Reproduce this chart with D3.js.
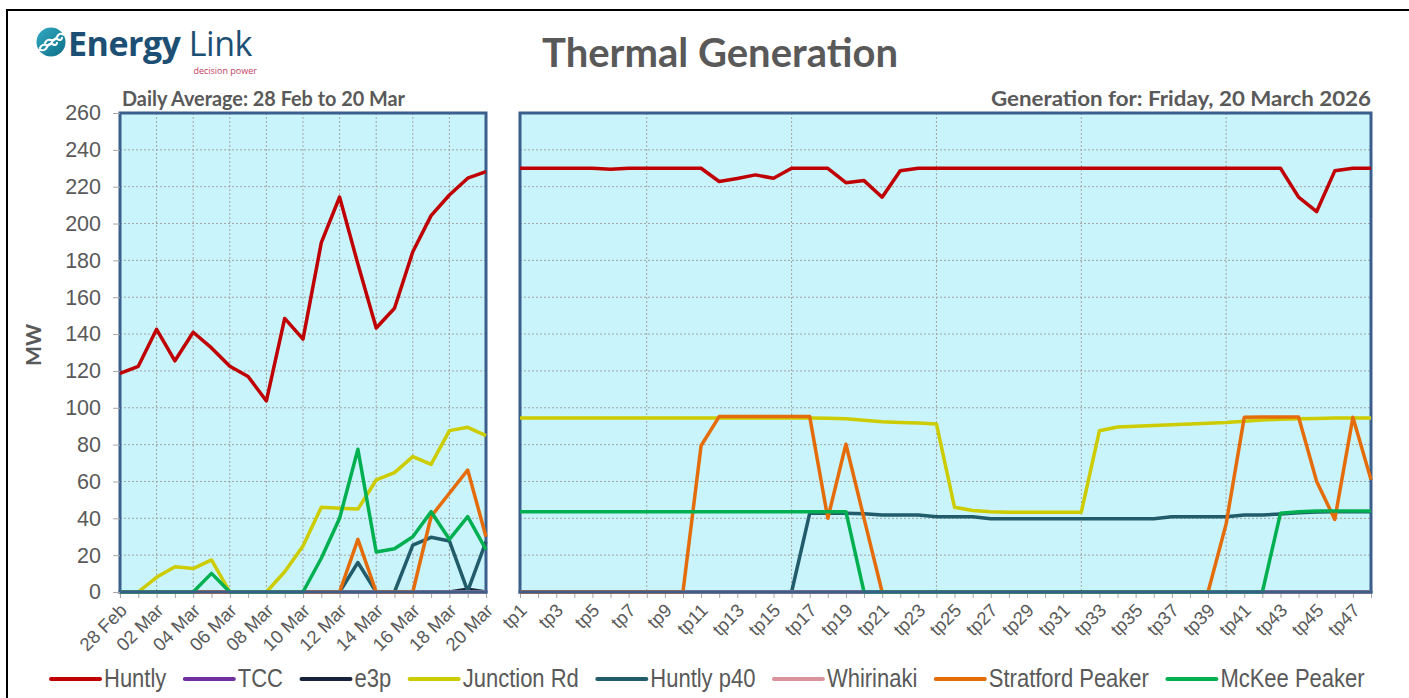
<!DOCTYPE html>
<html lang="en">
<head>
<meta charset="utf-8">
<title>Thermal Generation</title>
<style>
  body { margin: 0; background: #fff; }
  svg { display: block; }
</style>
</head>
<body>
<svg width="1409" height="698"></svg>
<script src="https://d3js.org/d3.v7.min.js"></script>
<script>
// categories and ticks
var days = ["28 Feb", "01 Mar", "02 Mar", "03 Mar", "04 Mar", "05 Mar", "06 Mar", "07 Mar", "08 Mar", "09 Mar", "10 Mar",
            "11 Mar", "12 Mar", "13 Mar", "14 Mar", "15 Mar", "16 Mar", "17 Mar", "18 Mar", "19 Mar", "20 Mar"];
var dayLabels = ["28 Feb", "02 Mar", "04 Mar", "06 Mar", "08 Mar", "10 Mar", "12 Mar", "14 Mar", "16 Mar", "18 Mar", "20 Mar"];
var dayGrid = ["02 Mar", "04 Mar", "06 Mar", "08 Mar", "10 Mar", "12 Mar", "14 Mar", "16 Mar", "18 Mar"];
var periods = d3.range(1, 49).map(function(i) { return "tp" + i; });
var periodLabels = periods.filter(function(d, i) { return i % 2 === 0; });
var periodGrid = ["tp8", "tp16", "tp24", "tp32", "tp40"];
var yTicks = [0, 20, 40, 60, 80, 100, 120, 140, 160, 180, 200, 220, 240, 260];

var seriesNames = ["Huntly", "TCC", "e3p", "Junction Rd", "Huntly p40", "Whirinaki", "Stratford Peaker", "McKee Peaker"];
var seriesColors = ["#c00000", "#7030a0", "#17233d", "#cccc00", "#225b6a", "#d9959b", "#e46c0a", "#00b050"];

// daily average MW, 28 Feb .. 20 Mar
var dayHuntly    = [118.7, 122.5, 142.6, 125.5, 141, 132.5, 122.5, 117, 103.7, 148.5, 137.3, 189.6, 214.4, 178, 143.3, 154, 184.7, 204.3, 215.5, 224.6, 228.2];
var dayTCC       = [0, 0, 0, 0, 0, 0, 0, 0, 0, 0, 0, 0, 0, 0, 0, 0, 0, 0, 0, 0, 0];
var dayE3p       = [0, 0, 0, 0, 0, 0, 0, 0, 0, 0, 0, 0, 0, 0, 0, 0, 0, 0, 0, 1.5, 0];
var dayJunction  = [0, 0, 8, 13.7, 12.7, 17.4, 0, 0, 0, 11, 25, 46, 45.5, 45, 60.8, 64.8, 73.5, 69.3, 87.6, 89.4, 84.9];
var dayHuntlyP40 = [0, 0, 0, 0, 0, 0, 0, 0, 0, 0, 0, 0, 0, 16, 0, 0, 25.5, 29.7, 27.7, 0.5, 27.3];
var dayWhirinaki = [0, 0, 0, 0, 0, 0, 0, 0, 0, 0, 0, 0, 0, 0, 0, 0, 0, 0, 0, 0, 0];
var dayStratford = [0, 0, 0, 0, 0, 0, 0, 0, 0, 0, 0, 0, 0, 28.6, 0, 0, 0, 41, 53.6, 66.2, 30];
var dayMcKee     = [0, 0, 0, 0, 0, 10.1, 0, 0, 0, 0, 0, 18.3, 40, 77.5, 21.7, 23.5, 30, 43.6, 28.6, 40.9, 23];

// trading periods tp1 .. tp48, Friday 20 March 2026
var tpHuntly    = [230, 230, 230, 230, 230, 229.5, 230, 230, 230, 230, 230, 222.8, 224.5, 226.4, 224.6, 230,
                   230, 230, 222.2, 223.3, 214.3, 228.7, 230, 230, 230, 230, 230, 230, 230, 230, 230, 230,
                   230, 230, 230, 230, 230, 230, 230, 230, 230, 230, 230, 214.3, 206.5, 228.6, 230, 230];
var tpTCC       = [0, 0, 0, 0, 0, 0, 0, 0, 0, 0, 0, 0, 0, 0, 0, 0, 0, 0, 0, 0, 0, 0, 0, 0,
                   0, 0, 0, 0, 0, 0, 0, 0, 0, 0, 0, 0, 0, 0, 0, 0, 0, 0, 0, 0, 0, 0, 0, 0];
var tpE3p       = [0, 0, 0, 0, 0, 0, 0, 0, 0, 0, 0, 0, 0, 0, 0, 0, 0, 0, 0, 0, 0, 0, 0, 0,
                   0, 0, 0, 0, 0, 0, 0, 0, 0, 0, 0, 0, 0, 0, 0, 0, 0, 0, 0, 0, 0, 0, 0, 0];
var tpJunction  = [94.5, 94.5, 94.5, 94.5, 94.5, 94.5, 94.5, 94.5, 94.5, 94.5, 94.5, 94.5, 94.5, 94.5, 94.5, 94.5,
                   94.5, 94.3, 94, 93.2, 92.4, 92, 91.7, 91.2, 46, 44.2, 43.6, 43.3, 43.3, 43.3, 43.3, 43.3,
                   87.5, 89.6, 90, 90.4, 90.8, 91.2, 91.6, 92, 92.7, 93.3, 93.8, 94, 94.2, 94.4, 94.5, 94.5];
var tpHuntlyP40 = [0, 0, 0, 0, 0, 0, 0, 0, 0, 0, 0, 0, 0, 0, 0, 0,
                   42.7, 42.7, 42.7, 42.5, 41.8, 41.8, 41.8, 40.9, 40.9, 40.9, 39.8, 39.8, 39.8, 39.8, 39.8, 39.8,
                   39.8, 39.8, 39.8, 39.8, 40.9, 40.9, 40.9, 40.9, 41.8, 41.8, 42.3, 43, 43.4, 43.6, 43.6, 43.6];
var tpWhirinaki = [0, 0, 0, 0, 0, 0, 0, 0, 0, 0, 0, 0, 0, 0, 0, 0, 0, 0, 0, 0, 0, 0, 0, 0,
                   0, 0, 0, 0, 0, 0, 0, 0, 0, 0, 0, 0, 0, 0, 0, 0, 0, 0, 0, 0, 0, 0, 0, 0];
var tpStratford = [0, 0, 0, 0, 0, 0, 0, 0, 0, 0, 79.4, 95.2, 95.2, 95.2, 95.2, 95.2,
                   95.2, 40, 80.2, 40, 0, 0, 0, 0, 0, 0, 0, 0, 0, 0, 0, 0,
                   0, 0, 0, 0, 0, 0, 0, 37, 94.8, 95, 95, 95, 60, 39.4, 94.8, 61];
var tpMcKee     = [43.6, 43.6, 43.6, 43.6, 43.6, 43.6, 43.6, 43.6, 43.6, 43.6, 43.6, 43.6, 43.6, 43.6, 43.6, 43.6,
                   43.6, 43.6, 43.6, 0, 0, 0, 0, 0, 0, 0, 0, 0, 0, 0, 0, 0,
                   0, 0, 0, 0, 0, 0, 0, 0, 0, 0, 42.7, 43.6, 44, 44, 44, 44];

var daySeries = [dayHuntly, dayTCC, dayE3p, dayJunction, dayHuntlyP40, dayWhirinaki, dayStratford, dayMcKee];
var tpSeries = [tpHuntly, tpTCC, tpE3p, tpJunction, tpHuntlyP40, tpWhirinaki, tpStratford, tpMcKee];

var svg = d3.select("svg");
var textGrey = "#595959",
    frameBlue = "#3b5e8c";

var y = d3.scaleLinear().domain([0, 260]).range([592, 113]);
var xDay = d3.scalePoint().domain(days).range([120, 486]);
var xTp = d3.scalePoint().domain(periods).range([520, 1371]);

// outer frame
svg.append("path")
    .attr("d", "M7,698V10H1409")
    .attr("fill", "none")
    .attr("stroke", "#000")
    .attr("stroke-width", 2);

function panel(x, cats, series, gridCats, labelCats) {
  var g = svg.append("g");
  var x0 = x.range()[0], x1 = x.range()[1];

  g.append("rect")
      .attr("x", x0).attr("y", y(260))
      .attr("width", x1 - x0).attr("height", y(0) - y(260))
      .attr("fill", "#c9f4fc");

  g.selectAll(".hgrid").data(yTicks.slice(1, -1)).join("line")
      .attr("x1", x0).attr("x2", x1)
      .attr("y1", function(d) { return y(d); }).attr("y2", function(d) { return y(d); })
      .attr("stroke", "#a3a3a3").attr("stroke-dasharray", "2,2");

  g.selectAll(".vgrid").data(gridCats).join("line")
      .attr("x1", function(d) { return x(d); }).attr("x2", function(d) { return x(d); })
      .attr("y1", y(260)).attr("y2", y(0))
      .attr("stroke", "#a3a3a3").attr("stroke-dasharray", "2,2");

  var ax = g.append("g")
      .attr("transform", "translate(0," + y(0) + ")")
      .call(d3.axisBottom(x).tickSize(6).tickSizeOuter(0)
        .tickFormat(function(d) { return labelCats.indexOf(d) >= 0 ? d : ""; }));
  ax.select(".domain").remove();
  ax.selectAll("line").attr("stroke", "#a6a6a6");
  ax.attr("font-family", "'Liberation Sans', Arial, sans-serif").attr("font-size", 18.5);
  ax.selectAll("text")
      .attr("fill", textGrey)
      .attr("x", 0).attr("y", 0).attr("dy", "0.35em")
      .attr("text-anchor", "end")
      .attr("transform", "translate(3,15) rotate(-45)");

  g.append("rect")
      .attr("x", x0).attr("y", y(260))
      .attr("width", x1 - x0).attr("height", y(0) - y(260))
      .attr("fill", "none")
      .attr("stroke", frameBlue)
      .attr("stroke-width", 3);

  var line = d3.line()
      .x(function(d, i) { return x(cats[i]); })
      .y(function(d) { return y(d); });

  g.selectAll(".series").data(series).join("path")
      .attr("fill", "none")
      .attr("stroke", function(d, i) { return seriesColors[i]; })
      .attr("stroke-width", 3.5)
      .attr("stroke-linejoin", "round")
      .attr("d", line);

  g.append("line")
      .attr("x1", x0 - 1.5).attr("x2", x1 + 1.5)
      .attr("y1", y(0)).attr("y2", y(0))
      .attr("stroke", frameBlue)
      .attr("stroke-width", 3);
  return g;
}

var left = panel(xDay, days, daySeries, dayGrid, dayLabels);
panel(xTp, periods, tpSeries, periodGrid, periodLabels);

// y axis on the daily panel
var yAx = left.append("g")
    .attr("transform", "translate(120,0)")
    .call(d3.axisLeft(y).tickValues(yTicks).tickSize(7).tickPadding(12));
yAx.select(".domain").remove();
yAx.selectAll("line").attr("stroke", "#a6a6a6");
yAx.attr("font-family", "'Liberation Sans', Arial, sans-serif").attr("font-size", 21.5);
yAx.selectAll("text").attr("fill", textGrey);

svg.append("text")
    .attr("transform", "translate(41,345) rotate(-90)")
    .attr("text-anchor", "middle")
    .attr("font-family", "Lato, sans-serif")
    .attr("font-weight", "bold")
    .attr("font-size", 21)
    .attr("fill", textGrey)
    .text("MW");

// titles
svg.append("text")
    .attr("x", 720).attr("y", 67)
    .attr("text-anchor", "middle")
    .attr("font-family", "Lato, sans-serif")
    .attr("font-weight", "bold")
    .attr("font-size", 40)
    .attr("fill", textGrey)
    .text("Thermal Generation");

svg.append("text")
    .attr("x", 122).attr("y", 106)
    .attr("font-family", "Lato, sans-serif")
    .attr("font-weight", "bold")
    .attr("font-size", 20)
    .attr("textLength", 283)
    .attr("lengthAdjust", "spacingAndGlyphs")
    .attr("fill", textGrey)
    .text("Daily Average: 28 Feb to 20 Mar");

svg.append("text")
    .attr("x", 1371).attr("y", 106)
    .attr("text-anchor", "end")
    .attr("font-family", "Lato, sans-serif")
    .attr("font-weight", "bold")
    .attr("font-size", 20)
    .attr("textLength", 380)
    .attr("lengthAdjust", "spacingAndGlyphs")
    .attr("fill", textGrey)
    .text("Generation for: Friday, 20 March 2026");

// logo
var logo = svg.append("g");
var grad = svg.append("defs").append("linearGradient")
    .attr("id", "logoGrad").attr("x1", 0).attr("y1", 0).attr("x2", 1).attr("y2", 1);
grad.append("stop").attr("offset", 0).attr("stop-color", "#33a9c2");
grad.append("stop").attr("offset", 1).attr("stop-color", "#0d6f88");
logo.append("circle").attr("cx", 51).attr("cy", 42).attr("r", 14.5).attr("fill", "url(#logoGrad)");
[-5, 0, 5].forEach(function(o) {
  logo.append("path")
      .attr("d", "M" + (40 + o) + "," + (48 - o) + "c4,-8 8,2 12,-6s8,2 10,-4")
      .attr("fill", "none").attr("stroke", "#fff").attr("stroke-width", 2.2)
      .attr("stroke-linecap", "round");
});
logo.append("text")
    .attr("x", 68).attr("y", 56)
    .attr("font-family", "'Open Sans', sans-serif")
    .attr("font-size", 34)
    .attr("letter-spacing", -0.5)
    .attr("fill", "#1c4f73")
    .html("<tspan font-weight='bold'>Energy</tspan> <tspan>Link</tspan>");
logo.append("text")
    .attr("x", 257).attr("y", 74)
    .attr("text-anchor", "end")
    .attr("font-family", "'Open Sans', sans-serif")
    .attr("font-size", 9)
    .attr("fill", "#c2405f")
    .text("decision power");

// legend, glyphs narrowed to mimic the condensed face
var legend = svg.append("g");
var lx = 51;
seriesNames.forEach(function(name, i) {
  legend.append("line")
      .attr("x1", lx).attr("x2", lx + 49)
      .attr("y1", 679).attr("y2", 679)
      .attr("stroke", seriesColors[i])
      .attr("stroke-width", 4)
      .attr("stroke-linecap", "round");
  var t = legend.append("text")
      .attr("transform", "translate(" + (lx + 53) + ",687) scale(0.88,1)")
      .attr("font-family", "'Liberation Sans', sans-serif")
      .attr("font-size", 25)
      .attr("fill", textGrey)
      .text(name);
  lx += 53 + t.node().getComputedTextLength() * 0.88 + 18.5;
});
</script>
</body>
</html>
